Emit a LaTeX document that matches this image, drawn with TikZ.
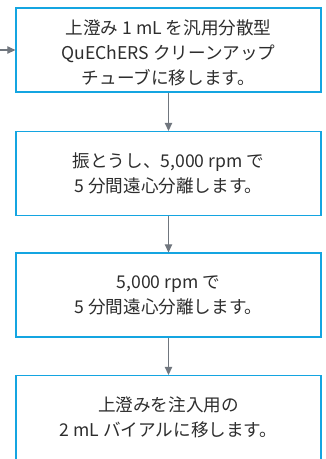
\documentclass[tikz,border=0pt]{standalone}
\usepackage{fontspec}
\newfontfamily\jp{Noto Sans CJK JP}
\usetikzlibrary{arrows.meta}
\definecolor{boxblue}{RGB}{20,165,225}
\definecolor{arrgray}{RGB}{112,118,126}
\definecolor{txtgray}{RGB}{45,45,45}
\tikzset{
  txt/.style={align=center, inner sep=0pt, text=txtgray, font=\jp\fontsize{17.6}{25}\selectfont},
  stepbox/.style={txt, draw=boxblue, line width=1.3pt, minimum width=305pt, minimum height=84pt},
  flow/.style={draw=arrgray, line width=1.2pt, -{Triangle[length=8pt,width=7.5pt]}}
}
\begin{document}
\begin{tikzpicture}[x=1pt,y=-1pt]
\useasboundingbox (0,0) rectangle (325,459);
\node[stepbox] (b1) at (168.5,50) {};
\node[txt] (t1) at (168.5,52.5) {上澄み 1 mL を汎用分散型\\QuEChERS クリーンアップ\\チューブに移します。};
\node[stepbox] (b2) at (168.5,173.5) {振とうし、5,000 rpm で\\5 分間遠心分離します。};
\node[stepbox] (b3) at (168.5,295) {5,000 rpm で\\5 分間遠心分離します。};
\node[stepbox] (b4) at (168.5,417.5) {上澄みを注入用の\\2 mL バイアルに移します。};
\coordinate (in) at (0,50);
\draw[flow] (in) -- (b1.west);
\draw[flow] (b1.south) -- (b2.north);
\draw[flow] (b2.south) -- (b3.north);
\draw[flow] (b3.south) -- (b4.north);
\end{tikzpicture}
\end{document}
